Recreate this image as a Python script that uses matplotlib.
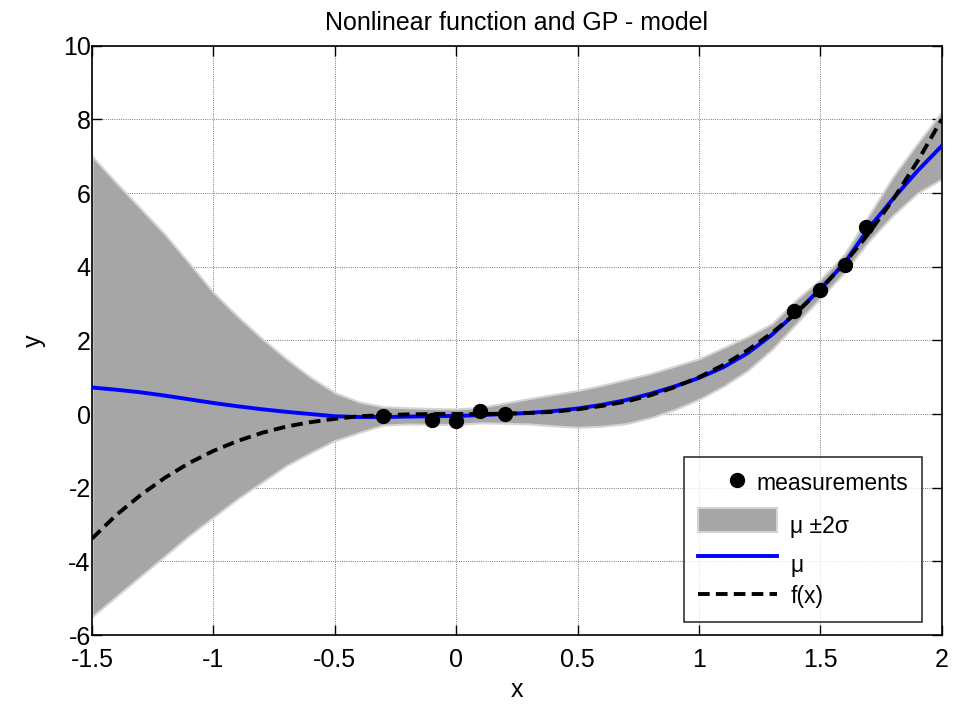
import matplotlib
matplotlib.use("Agg")
import matplotlib.pyplot as plt
import numpy as np

plt.rcParams['font.family'] = ['Liberation Sans', 'DejaVu Sans']

x = np.round(np.arange(-1.5, 2.01, 0.1), 2)

upper = [7.0, 6.28, 5.58, 4.88, 4.1, 3.3, 2.65, 2.05, 1.5, 1.0,
         0.58, 0.33, 0.2, 0.17, 0.15, 0.14, 0.18, 0.3, 0.42, 0.53,
         0.64, 0.78, 0.94, 1.1, 1.3, 1.5, 1.8, 2.1, 2.45, 3.1,
         3.65, 4.35, 5.4, 6.45, 7.35, 8.2]
lower = [-5.5, -4.95, -4.4, -3.85, -3.3, -2.8, -2.3, -1.85, -1.4, -1.05,
         -0.72, -0.5, -0.3, -0.27, -0.28, -0.28, -0.24, -0.25, -0.27, -0.32,
         -0.36, -0.33, -0.26, -0.1, 0.12, 0.4, 0.75, 1.18, 1.75, 2.45,
         3.15, 3.85, 4.7, 5.4, 6.0, 6.38]
mu = [0.72, 0.66, 0.59, 0.5, 0.4, 0.3, 0.21, 0.13, 0.06, 0.0,
      -0.06, -0.08, -0.08, -0.07, -0.06, -0.05, -0.03, 0.0, 0.03, 0.08,
      0.15, 0.25, 0.38, 0.55, 0.75, 0.98, 1.27, 1.65, 2.15, 2.75,
      3.4, 4.1, 5.05, 5.85, 6.6, 7.28]
fx = [-3.38, -2.74, -2.2, -1.73, -1.33, -1.0, -0.73, -0.51, -0.34, -0.22,
      -0.13, -0.06, -0.03, -0.01, 0.0, 0.0, 0.0, 0.01, 0.03, 0.06,
      0.13, 0.22, 0.34, 0.51, 0.73, 1.0, 1.33, 1.73, 2.2, 2.74,
      3.38, 4.1, 4.91, 5.83, 6.86, 8.0]

meas_x = [-0.3, -0.1, 0.0, 0.1, 0.2, 1.39, 1.5, 1.6, 1.69]
meas_y = [-0.06, -0.15, -0.2, 0.07, -0.01, 2.81, 3.36, 4.06, 5.07]

fig = plt.figure(figsize=(9.59, 7.04), dpi=100)
ax = fig.add_axes([0.096, 0.098, 0.886, 0.837])

ax.plot(meas_x, meas_y, 'o', color='black', markersize=10, label='measurements', zorder=5)
ax.fill_between(x, lower, upper, facecolor='#a6a6a6', edgecolor='#d4d4d4',
                linewidth=1.5, label='\u03bc \u00b12\u03c3', zorder=2)
ax.plot(x, mu, color='blue', linewidth=2.8, label='\u03bc', zorder=3)
ax.plot(x, fx, color='black', linestyle='--', linewidth=2.8, dashes=(3, 1.6),
        label='f(x)', zorder=4)

ax.set_xlim(-1.5, 2)
ax.set_ylim(-6, 10)
ax.set_xticks([-1.5, -1, -0.5, 0, 0.5, 1, 1.5, 2])
ax.set_xticklabels(['-1.5', '-1', '-0.5', '0', '0.5', '1', '1.5', '2'])
ax.set_yticks(range(-6, 11, 2))
ax.set_yticklabels([str(v) for v in range(-6, 11, 2)])
ax.tick_params(direction='in', top=True, right=True, length=7, width=1,
               labelsize=18)
ax.tick_params(axis='x', pad=9)
ax.tick_params(axis='y', pad=1)
ax.grid(True, color='black', linestyle=':', linewidth=0.6, alpha=0.7)
ax.set_axisbelow(True)
for s in ax.spines.values():
    s.set_linewidth(1.2)

ax.set_title('Nonlinear function and GP - model', fontsize=18, pad=11)
ax.set_xlabel('x', fontsize=18, labelpad=5)
ax.set_ylabel('y', fontsize=18, labelpad=12)

leg = ax.legend(loc='lower right', bbox_to_anchor=(0.9765, 0.022), fontsize=16.5,
                frameon=True, fancybox=False, edgecolor='black',
                handlelength=3.45, handleheight=1.2, handletextpad=-0.9,
                labelspacing=0.58, borderpad=0.6, borderaxespad=0)
leg.get_frame().set_linewidth(1.2)
# matlab-style legend: marker label sits further left, symbol labels sit low
txts = leg.get_texts()
txts[1].set_position((34, -5))
txts[2].set_position((34, -6))
txts[3].set_position((34, 0))

fig.savefig('out.png', dpi=100)
